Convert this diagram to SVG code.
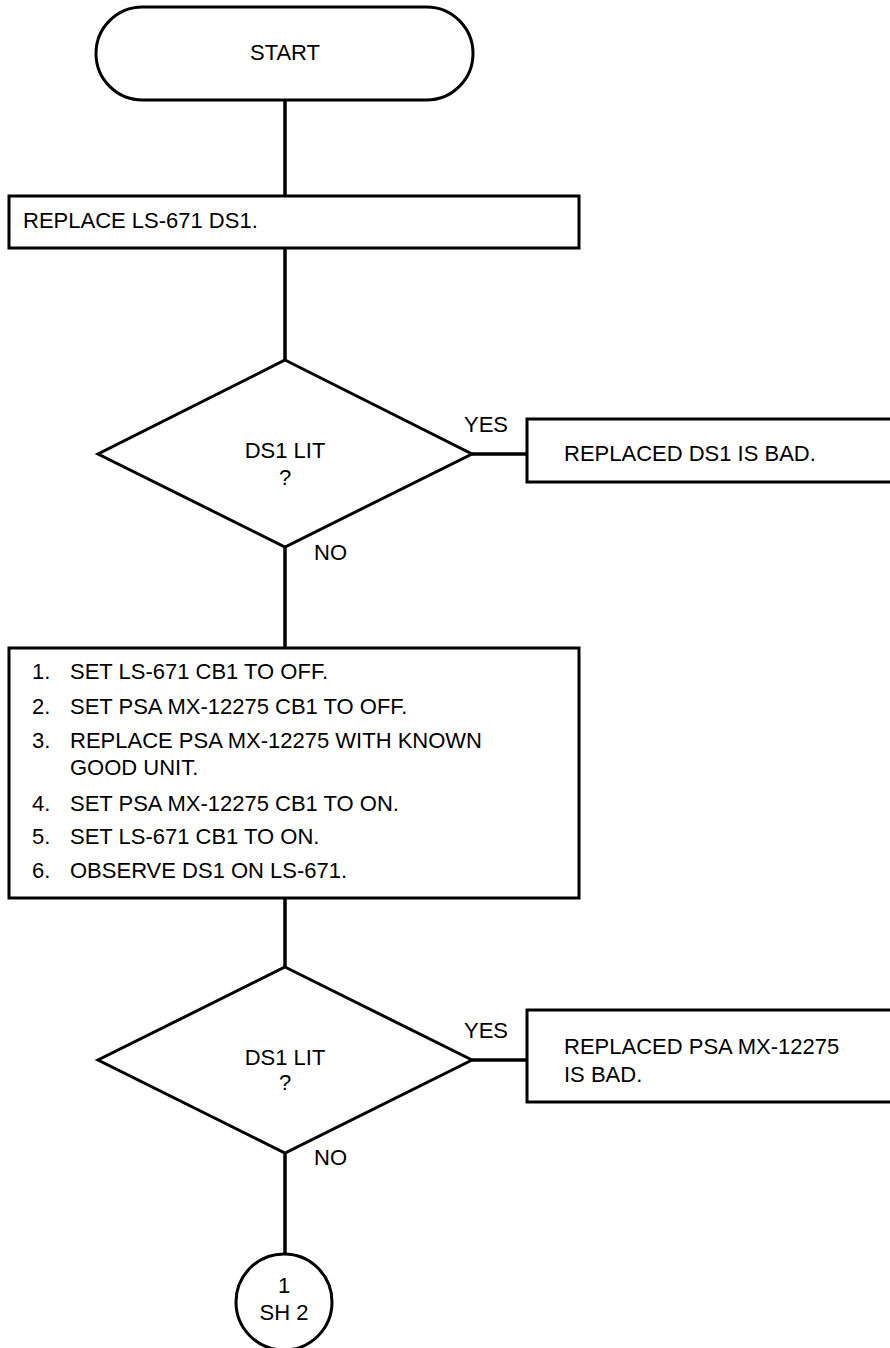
<svg xmlns="http://www.w3.org/2000/svg" width="890" height="1348" viewBox="0 0 890 1348">
<style>
.s{fill:#fff;stroke:#000;stroke-width:3}
.c{fill:none;stroke:#000;stroke-width:3.5}
text{font-family:"Liberation Sans",Arial,sans-serif;font-size:22px;fill:#000}
.m{text-anchor:middle}
</style>
<rect width="890" height="1348" fill="#fff"/>
<g id="connectors">
<line class="c" x1="285" y1="100" x2="285" y2="196"/>
<line class="c" x1="285" y1="248" x2="285" y2="360"/>
<line class="c" x1="472" y1="454" x2="527" y2="454"/>
<line class="c" x1="285" y1="547" x2="285" y2="648"/>
<line class="c" x1="285" y1="898" x2="285" y2="967"/>
<line class="c" x1="472" y1="1060" x2="527" y2="1060"/>
<line class="c" x1="285" y1="1153" x2="285" y2="1254"/>
<text x="464" y="432">YES</text>
<text x="314" y="560">NO</text>
<text x="464" y="1038">YES</text>
<text x="314" y="1165">NO</text>
</g>
<g id="start">
<rect class="s" x="96" y="7" width="377" height="93" rx="46.5"/>
<text class="m" x="285" y="60">START</text>
</g>
<g id="replace">
<rect class="s" x="9" y="196" width="570" height="52"/>
<text x="23" y="228">REPLACE LS-671 DS1.</text>
</g>
<g id="decision1">
<polygon class="s" points="285,360 472,454 285,547 98,454"/>
<text class="m" x="285" y="458">DS1 LIT</text>
<text class="m" x="285" y="485">?</text>
</g>
<g id="bad1">
<rect class="s" x="527" y="419" width="370" height="63"/>
<text x="564" y="461">REPLACED DS1 IS BAD.</text>
</g>
<g id="steps">
<rect class="s" x="9" y="648" width="570" height="250"/>
<text x="32" y="679">1.</text><text x="70" y="679">SET LS-671 CB1 TO OFF.</text>
<text x="32" y="714">2.</text><text x="70" y="714">SET PSA MX-12275 CB1 TO OFF.</text>
<text x="32" y="748">3.</text><text x="70" y="748">REPLACE PSA MX-12275 WITH KNOWN</text>
<text x="70" y="775">GOOD UNIT.</text>
<text x="32" y="811">4.</text><text x="70" y="811">SET PSA MX-12275 CB1 TO ON.</text>
<text x="32" y="844">5.</text><text x="70" y="844">SET LS-671 CB1 TO ON.</text>
<text x="32" y="878">6.</text><text x="70" y="878">OBSERVE DS1 ON LS-671.</text>
</g>
<g id="decision2">
<polygon class="s" points="285,967 472,1060 285,1153 98,1060"/>
<text class="m" x="285" y="1065">DS1 LIT</text>
<text class="m" x="285" y="1090">?</text>
</g>
<g id="bad2">
<rect class="s" x="527" y="1010" width="370" height="92"/>
<text x="564" y="1054">REPLACED PSA MX-12275</text>
<text x="564" y="1082">IS BAD.</text>
</g>
<g id="offpage">
<circle class="s" cx="284" cy="1302" r="48"/>
<text class="m" x="284" y="1293">1</text>
<text class="m" x="284" y="1320">SH 2</text>
</g>
</svg>
